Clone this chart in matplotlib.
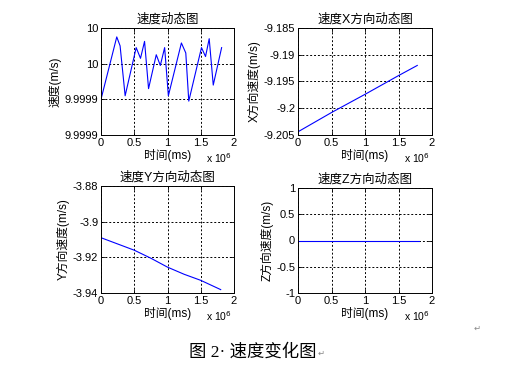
import matplotlib
matplotlib.use("Agg")
import matplotlib.pyplot as plt
from matplotlib.ticker import FixedLocator, FormatStrFormatter

plt.rcParams['font.family'] = ['Liberation Sans', 'Noto Sans CJK SC', 'DejaVu Sans']
plt.rcParams['font.size'] = 7.5
plt.rcParams['axes.unicode_minus'] = False

# time axis in units of 1e6 ms
t_speed = [0, 0.237, 0.287, 0.363, 0.529, 0.594, 0.655, 0.715, 0.831, 0.892,
           0.957, 1.013, 1.209, 1.275, 1.320, 1.511, 1.572, 1.627, 1.688, 1.814]
speed = [9.999940, 9.999975, 9.999970, 9.999942, 9.999969, 9.999963, 9.9999725,
         9.999946, 9.999965, 9.999959, 9.999969, 9.999942, 9.9999716, 9.999966,
         9.999939, 9.999969, 9.999964, 9.999974, 9.999948, 9.999969]

t_lin = [0, 0.5, 1.0, 1.5, 1.78]
vx = [-9.2044, -9.2008, -9.1974, -9.1939, -9.1920]

t_y = [0, 0.25, 0.5, 0.75, 1.0, 1.25, 1.5, 1.8]
vy = [-3.9090, -3.9125, -3.9160, -3.9205, -3.9255, -3.9295, -3.9329, -3.9381]

t_z = [0, 1.8]
vz = [0, 0]

titles = ['速度动态图', '速度X方向动态图', '速度Y方向动态图', '速度Z方向动态图']
ylabels = ['速度(m/s)', 'X方向速度(m/s)', 'Y方向速度(m/s)', 'Z方向速度(m/s)']
yticks = [[9.99992, 9.99994, 9.99996, 9.99998],
          [-9.205, -9.2, -9.195, -9.19, -9.185],
          [-3.94, -3.92, -3.9, -3.88],
          [-1, -0.5, 0, 0.5, 1]]
xticks = [0, 0.5, 1, 1.5, 2]

fig = plt.figure(figsize=(5.07, 3.80), dpi=100)
W, H = 507, 380
boxes = [(101, 28, 234, 135), (298, 28, 432, 135),
         (101, 186, 234, 293), (298, 188, 432, 293)]
series = [(t_speed, speed), (t_lin, vx), (t_y, vy), (t_z, vz)]

for i, (l, t, r, b) in enumerate(boxes):
    ax = fig.add_axes([l / W, 1 - b / H, (r - l) / W, (b - t) / H])
    x, y = series[i]
    ax.plot(x, y, color='#0000ff', linewidth=0.8)
    ax.set_xlim(0, 2)
    ax.set_ylim(yticks[i][0], yticks[i][-1])
    ax.xaxis.set_major_locator(FixedLocator(xticks))
    ax.xaxis.set_major_formatter(FormatStrFormatter('%g'))
    ax.yaxis.set_major_locator(FixedLocator(yticks[i]))
    ax.yaxis.set_major_formatter(FormatStrFormatter('%.5g'))
    ax.tick_params(direction='in', top=True, right=True, length=3, width=0.6,
                   pad=2, labelsize=8)
    ax.grid(True, color='black', linestyle=(0, (2, 2)), linewidth=0.7)
    for s in ax.spines.values():
        s.set_linewidth(0.7)
    ax.set_title(titles[i], fontsize=9, pad=4)
    ax.set_xlabel('时间(ms)', labelpad=1, fontsize=8.5)
    ax.set_ylabel(ylabels[i], labelpad=2, fontsize=8.5)
    ax.annotate('x 10$^6$', xy=(1, 0), xycoords='axes fraction',
                xytext=(-2, -30), textcoords='offset pixels',
                ha='right', va='bottom', fontsize=7.5)

fig.text(253 / W, 1 - 352 / H, '图 2· 速度变化图', ha='center', va='center',
         fontsize=12.5, family=['Liberation Serif', 'Noto Sans CJK SC'])
fig.text(318 / W, 1 - 353 / H, '↵', ha='left', va='center', fontsize=6,
         color='#888888', family='DejaVu Sans')
fig.text(474 / W, 1 - 328 / H, '↵', ha='left', va='center', fontsize=6,
         color='#888888', family='DejaVu Sans')

fig.savefig('out.png', dpi=100)
